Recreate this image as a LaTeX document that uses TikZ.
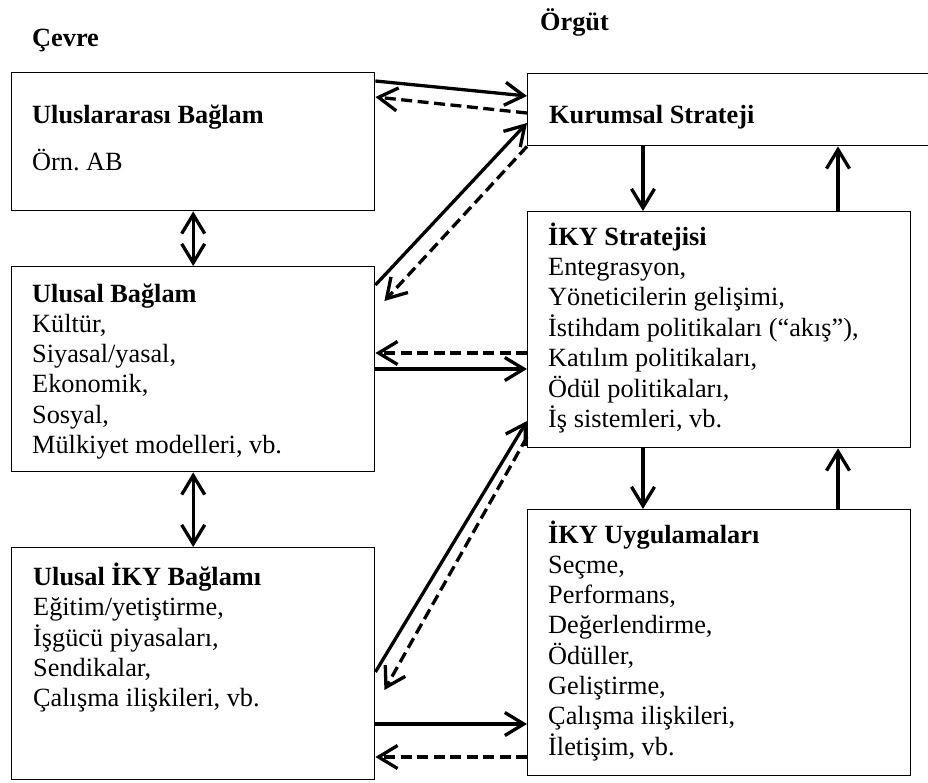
\documentclass[tikz,border=0pt]{standalone}
\usepackage{fontspec}
\setmainfont{Liberation Serif}
\usetikzlibrary{arrows.meta,calc}
\frenchspacing
\begin{document}
\begin{tikzpicture}[x=1pt,y=-1pt,
  box/.style={draw,line width=1.4pt,rectangle,inner sep=0pt,anchor=north west},
  txt/.style={anchor=base west,inner sep=0pt,font=\fontsize{26.3}{30.3}\selectfont},
  tip/.tip={Straight Barb[length=19pt,width=23pt]},
  link/.style={line width=3.3pt,-tip},
  back/.style={link,dash pattern=on 11pt off 5.5pt},
  both/.style={line width=3.3pt,tip-tip}]
\useasboundingbox (0,0) rectangle (928,782);

% headings
\node[txt] (cevre) at (32,46) {\textbf{Çevre}};
\node[txt] (orgut) at (540,30) {\textbf{Örgüt}};

% environment boxes (left column)
\node[box,minimum width=363pt,minimum height=138pt] (ui) at (11,72) {};
\node[box,minimum width=363pt,minimum height=205pt] (ub) at (11,266) {};
\node[box,minimum width=363pt,minimum height=232pt] (uiky) at (11,547) {};

% organisation boxes (right column)
\node[box,minimum width=420pt,minimum height=72pt] (ks) at (527,73) {};
\node[box,minimum width=383pt,minimum height=236pt] (iks) at (527,211) {};
\node[box,minimum width=383pt,minimum height=266pt] (iku) at (527,509) {};

% box contents
\node[txt] (uiT) at (32,123) {\textbf{Uluslararası Bağlam}};
\node[txt] (uiL) at (32,170) {Örn. AB};
\node[txt] (ksT) at (549,123) {\textbf{Kurumsal Strateji}};
\node[txt] (ubT) at (32,302) {\begin{tabular}[t]{@{}l@{}}
  \textbf{Ulusal Bağlam}\\ Kültür,\\ Siyasal/yasal,\\ Ekonomik,\\ Sosyal,\\ Mülkiyet modelleri, vb.
  \end{tabular}};
\node[txt] (uikyT) at (33,585) {\begin{tabular}[t]{@{}l@{}}
  \textbf{Ulusal İKY Bağlamı}\\ Eğitim/yetiştirme,\\ İşgücü piyasaları,\\ Sendikalar,\\ Çalışma ilişkileri, vb.
  \end{tabular}};
\node[txt] (iksT) at (548,245) {\begin{tabular}[t]{@{}l@{}}
  \textbf{İKY Stratejisi}\\ Entegrasyon,\\ Yöneticilerin gelişimi,\\ İstihdam politikaları (“akış”),\\ Katılım politikaları,\\ Ödül politikaları,\\ İş sistemleri, vb.
  \end{tabular}};
\node[txt] (ikuT) at (548,543) {\begin{tabular}[t]{@{}l@{}}
  \textbf{İKY Uygulamaları}\\ Seçme,\\ Performans,\\ Değerlendirme,\\ Ödüller,\\ Geliştirme,\\ Çalışma ilişkileri,\\ İletişim, vb.
  \end{tabular}};

% links between environment and organisation
\draw[link] ($(ui.north east)+(0,9)$) -- ($(ks.north west)+(0,23)$);
\draw[back] ($(ks.north west)+(0,40)$) -- ($(ui.north east)+(0,25)$);
\draw[link] ($(ub.north east)+(0,19)$) -- ($(ks.north west)+(0,50)$);
\coordinate (ubIn) at ($(ub.north east)+(9,35)$);
\draw[back] (ks.south west) -- (ubIn);
\draw[back] ($(iks.north west)+(0,142)$) -- ($(ub.north east)+(0,87)$);
\draw[link] ($(ub.north east)+(0,103)$) -- ($(iks.north west)+(0,158)$);
\draw[link] ($(uiky.north east)+(0,125)$) -- ($(iks.north west)+(0,210)$);
\coordinate (uikyIn) at ($(uiky.north east)+(9,143)$);
\draw[back] ($(iks.north west)+(0,226)$) -- (uikyIn);
\draw[link] ($(uiky.north east)+(0,177)$) -- ($(iku.north west)+(0,215)$);
\draw[back] ($(iku.north west)+(0,248)$) -- ($(uiky.north east)+(0,210)$);

% links within each column
\draw[both] (ui.south) -- (ub.north);
\draw[both] (ub.south) -- (uiky.north);
\draw[link] ($(ks.south west)+(116,0)$) -- ($(iks.north west)+(116,0)$);
\draw[link] ($(iks.north west)+(311,0)$) -- ($(ks.south west)+(311,0)$);
\draw[link] ($(iks.south west)+(116,0)$) -- ($(iku.north west)+(116,0)$);
\draw[link] ($(iku.north west)+(311,0)$) -- ($(iks.south west)+(311,0)$);
\end{tikzpicture}
\end{document}
